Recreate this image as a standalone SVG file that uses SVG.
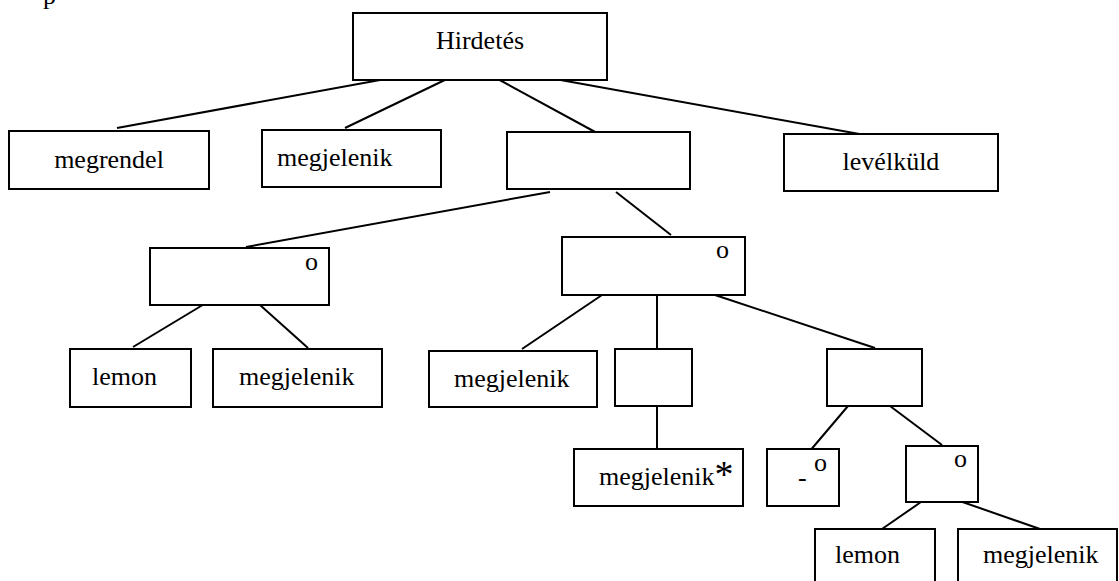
<svg xmlns="http://www.w3.org/2000/svg" width="1119" height="581" viewBox="0 0 1119 581">
<style>
rect.n{fill:#fff;stroke:#000;stroke-width:2}
text{font-family:'Liberation Serif','Times New Roman','DejaVu Serif',serif;font-size:26px;fill:#000}
.c{text-anchor:middle}
#connectors line{stroke:#000;stroke-width:2}
</style>
<rect width="1119" height="581" fill="#fff"/>
<g font-family="Liberation Serif, Times New Roman, serif" font-size="26">
<text x="43" y="4">p</text>
</g>
<g id="connectors">
<line x1="391" y1="78" x2="117" y2="128"/>
<line x1="449" y1="78" x2="345" y2="128"/>
<line x1="496" y1="78" x2="597" y2="133"/>
<line x1="555" y1="79" x2="865" y2="135"/>
<line x1="550" y1="192" x2="246" y2="247"/>
<line x1="616" y1="192" x2="671" y2="235"/>
<line x1="206" y1="303" x2="133" y2="347"/>
<line x1="260" y1="305" x2="308" y2="348"/>
<line x1="602" y1="295" x2="522" y2="349"/>
<line x1="657" y1="292" x2="657" y2="350"/>
<line x1="715" y1="295" x2="875" y2="348"/>
<line x1="657" y1="406" x2="657" y2="448"/>
<line x1="848" y1="406" x2="809" y2="452"/>
<line x1="890" y1="406" x2="942" y2="445"/>
<line x1="921" y1="502" x2="882" y2="529"/>
<line x1="951" y1="498" x2="1040" y2="529"/>
</g>
<g id="hirdetes"><rect class="n" x="353" y="13" width="254" height="67"/><text class="c" x="480" y="49">Hirdetés</text></g>
<g id="megrendel"><rect class="n" x="9" y="131" width="200" height="58"/><text class="c" x="109" y="168">megrendel</text></g>
<g id="megjelenik1"><rect class="n" x="262" y="130" width="179" height="57"/><text x="277" y="166">megjelenik</text></g>
<g id="blank1"><rect class="n" x="507" y="132" width="183" height="57"/></g>
<g id="levelkuld"><rect class="n" x="784" y="134" width="214" height="57"/><text class="c" x="891" y="170">levélküld</text></g>
<g id="optL"><rect class="n" x="150" y="248" width="179" height="57"/><text x="305" y="270">o</text></g>
<g id="optR"><rect class="n" x="562" y="237" width="183" height="58"/><text x="716" y="258">o</text></g>
<g id="lemon1"><rect class="n" x="70" y="349" width="121" height="58"/><text x="92" y="385">lemon</text></g>
<g id="megjelenik2"><rect class="n" x="213" y="349" width="169" height="58"/><text x="239" y="385">megjelenik</text></g>
<g id="megjelenik3"><rect class="n" x="429" y="351" width="168" height="56"/><text x="454" y="387">megjelenik</text></g>
<g id="iter"><rect class="n" x="615" y="349" width="77" height="57"/></g>
<g id="blank2"><rect class="n" x="827" y="349" width="95" height="57"/></g>
<g id="megjelenikStar"><rect class="n" x="574" y="449" width="169" height="57"/><text x="599" y="485">megjelenik<tspan font-size="38" dy="2">*</tspan></text></g>
<g id="nullOpt"><rect class="n" x="767" y="449" width="72" height="57"/><text x="798" y="486">-</text><text x="814" y="471">o</text></g>
<g id="opt4"><rect class="n" x="906" y="446" width="72" height="56"/><text x="954" y="467">o</text></g>
<g id="lemon2"><rect class="n" x="815" y="529" width="120" height="70"/><text x="835" y="563">lemon</text></g>
<g id="megjelenik4"><rect class="n" x="958" y="529" width="159" height="70"/><text x="983" y="563">megjelenik</text></g>
</svg>
